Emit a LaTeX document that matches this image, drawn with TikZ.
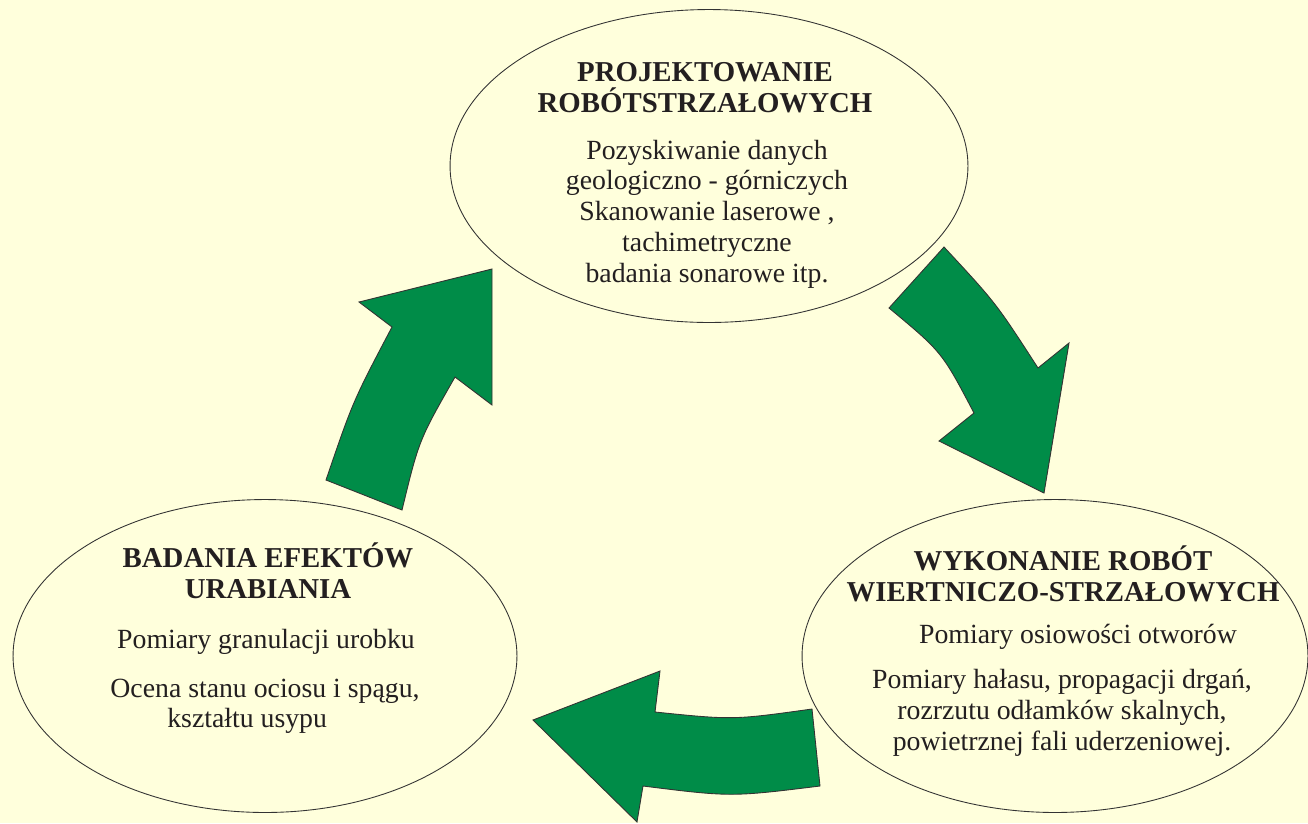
\documentclass[tikz,border=0pt]{standalone}
\usepackage{fontspec}
\setmainfont{Liberation Serif}
\usetikzlibrary{shapes.geometric}

\definecolor{paper}{RGB}{255,255,220}
\definecolor{leaf}{RGB}{0,140,72}
\definecolor{ink}{RGB}{35,31,32}

\tikzset{
  bubble/.style={ellipse, draw=black!80, fill=paper, line width=0.5pt,
    inner sep=0pt, minimum width=10.36cm, minimum height=6.26cm},
  headtxt/.style={font=\bfseries\fontsize{16.4}{17.2}\selectfont, text=ink,
    align=center, anchor=base, inner sep=0pt},
  bodytxt/.style={font=\fontsize{15.8}{17.5}\selectfont, text=ink,
    align=center, anchor=base, inner sep=0pt},
  bigarrow/.style={fill=leaf, draw=black!80, line width=0.5pt, line join=miter}
}

\begin{document}
\begin{tikzpicture}[x=0.02cm, y=-0.02cm]
\useasboundingbox (0,0) rectangle (1308,823);
\fill[paper] (0,0) rectangle (1308,823);

% the three stages (text nodes sit on the baseline of their last line)
\node[bubble] (projekt) at (709,166) {};
\node[bubble, minimum width=10.12cm] (wykonanie) at (1055,656) {};
\node[bubble, minimum width=10.08cm] (badania) at (265,656) {};

\node[headtxt] (projekt-t) at (705,112) {PROJEKTOWANIE\\ROBÓTSTRZAŁOWYCH};
\node[bodytxt] (projekt-b) at (707,282) {Pozyskiwanie danych\\geologiczno - górniczych\\Skanowanie laserowe ,\\tachimetryczne\\badania sonarowe itp.};

\node[headtxt] (wykonanie-t) at (1063,601) {WYKONANIE ROBÓT\\WIERTNICZO-STRZAŁOWYCH};
\node[bodytxt] (wykonanie-a) at (1078,643) {Pomiary osiowości otworów};
\node[bodytxt] (wykonanie-b) at (1062,750) {Pomiary hałasu, propagacji drgań,\\rozrzutu odłamków skalnych,\\powietrznej fali uderzeniowej.};

\node[headtxt] (badania-t) at (268,598) {BADANIA EFEKTÓW\\URABIANIA};
\node[bodytxt] (badania-a) at (266,648) {Pomiary granulacji urobku};
\node[bodytxt] (badania-b) at (265,697) {Ocena stanu ociosu i spągu,};
\node[bodytxt, anchor=base west] (badania-c) at (167,727) {kształtu usypu};

% curved block arrows
\draw[bigarrow] (944,247) .. controls (996,303) .. (1038,368) -- (1069,343)
  -- (1044,493) -- (939,441) -- (974,413)
  .. controls (942,352) .. (889,308) -- cycle;
\draw[bigarrow] (812,709) .. controls (733,720) .. (655,712) -- (660,671)
  -- (533,720) -- (637,822) -- (643,786)
  .. controls (731,797) .. (820,786) -- cycle;
\draw[bigarrow] (326,480) .. controls (353,401) .. (392,327) -- (359,302)
  -- (492,269) -- (492,405) -- (455,377)
  .. controls (419,440) .. (402,510) -- cycle;
\end{tikzpicture}
\end{document}
